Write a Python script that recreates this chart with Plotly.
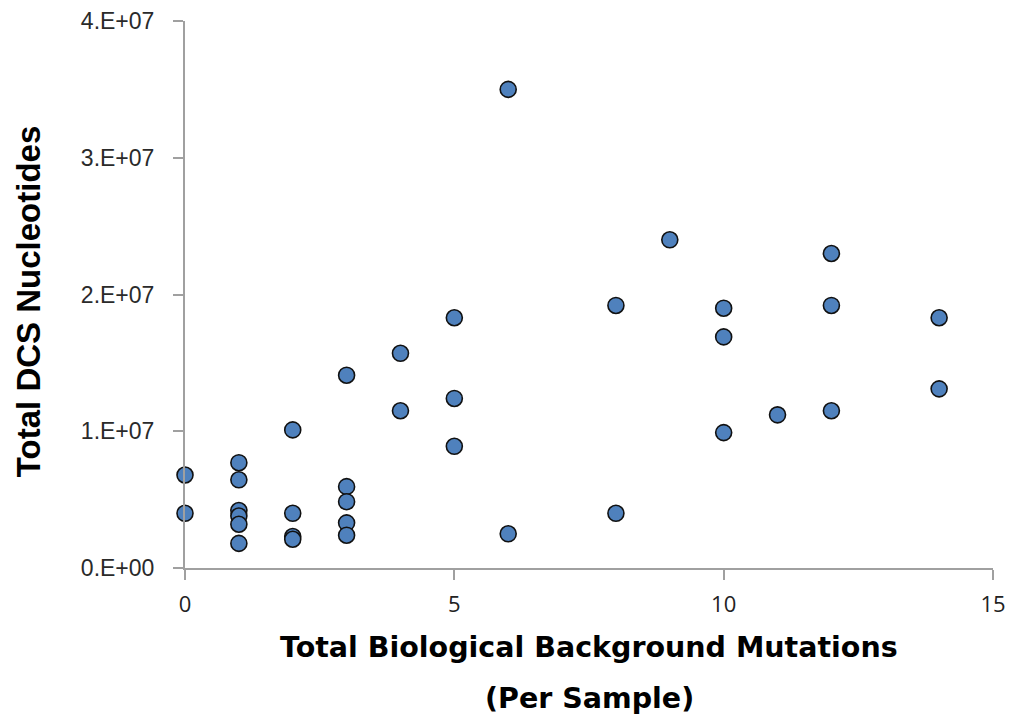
import plotly.graph_objects as go

# Data
mutations = [0, 0,
             1, 1, 1, 1, 1, 1,
             2, 2, 2, 2,
             3, 3, 3, 3, 3,
             4, 4,
             5, 5, 5,
             6, 6,
             8, 8,
             9,
             10, 10, 10,
             11,
             12, 12, 12,
             14, 14]
dcs_nucleotides = [6.8e6, 4.0e6,
                   7.7e6, 6.45e6, 4.2e6, 3.8e6, 3.2e6, 1.8e6,
                   1.01e7, 4.0e6, 2.3e6, 2.1e6,
                   1.41e7, 5.95e6, 4.85e6, 3.3e6, 2.4e6,
                   1.57e7, 1.15e7,
                   1.83e7, 1.24e7, 8.9e6,
                   3.5e7, 2.5e6,
                   1.92e7, 4.0e6,
                   2.4e7,
                   1.9e7, 1.69e7, 9.9e6,
                   1.12e7,
                   2.3e7, 1.92e7, 1.15e7,
                   1.83e7, 1.31e7]

x_ticks = [0, 5, 10, 15]
y_ticks = [0, 1e7, 2e7, 3e7, 4e7]
y_tick_labels = ["0.E+00", "1.E+07", "2.E+07", "3.E+07", "4.E+07"]

x_title = "Total Biological Background Mutations"
x_title2 = "(Per Sample)"
y_title = "Total DCS Nucleotides"

fig = go.Figure()
fig.add_trace(go.Scatter(
    x=mutations, y=dcs_nucleotides, mode="markers",
    marker=dict(size=16, color="#4F81BD", line=dict(color="#111111", width=1.6)),
    showlegend=False, cliponaxis=False,
))

axis_color = "#A0A0A0"
title_font = dict(family="DejaVu Sans", size=28.5, color="black", weight="bold")
fig.update_layout(
    width=1015, height=719,
    margin=dict(l=185, r=22, t=21, b=151, autoexpand=False),
    paper_bgcolor="white", plot_bgcolor="white",
    xaxis=dict(
        range=[0, 15], tickvals=x_ticks, showgrid=False, zeroline=False,
        showline=True, linecolor=axis_color, linewidth=2,
        ticks="outside", ticklen=10, tickcolor=axis_color, tickwidth=2,
        tickfont=dict(family="Open Sans", size=22, color="#222222"),
        ticklabelstandoff=6, automargin=False,
    ),
    yaxis=dict(
        range=[0, 4e7], tickvals=y_ticks, ticktext=y_tick_labels,
        showgrid=False, zeroline=False,
        showline=True, linecolor=axis_color, linewidth=2,
        ticks="outside", ticklen=10, tickcolor=axis_color, tickwidth=2,
        tickfont=dict(family="Liberation Sans", size=23, color="#2a2a2a"),
        ticklabelstandoff=14, automargin=False,
    ),
    annotations=[
        dict(text=x_title, xref="paper", yref="paper", x=0.5, y=0,
             xanchor="center", yanchor="middle",
             yshift=-79, showarrow=False, font=title_font),
        dict(text=x_title2, xref="paper", yref="paper", x=0.5, y=0,
             yanchor="middle", xanchor="center",
             yshift=-130, showarrow=False, font=title_font),
        dict(text=y_title, xref="paper", yref="paper", x=0, y=0.486,
             xanchor="center", yanchor="middle",
             xshift=-157, textangle=-90, showarrow=False,
             font=dict(family="Liberation Sans", size=33, color="black", weight="bold")),
    ],
)

fig.write_html("out.html")
